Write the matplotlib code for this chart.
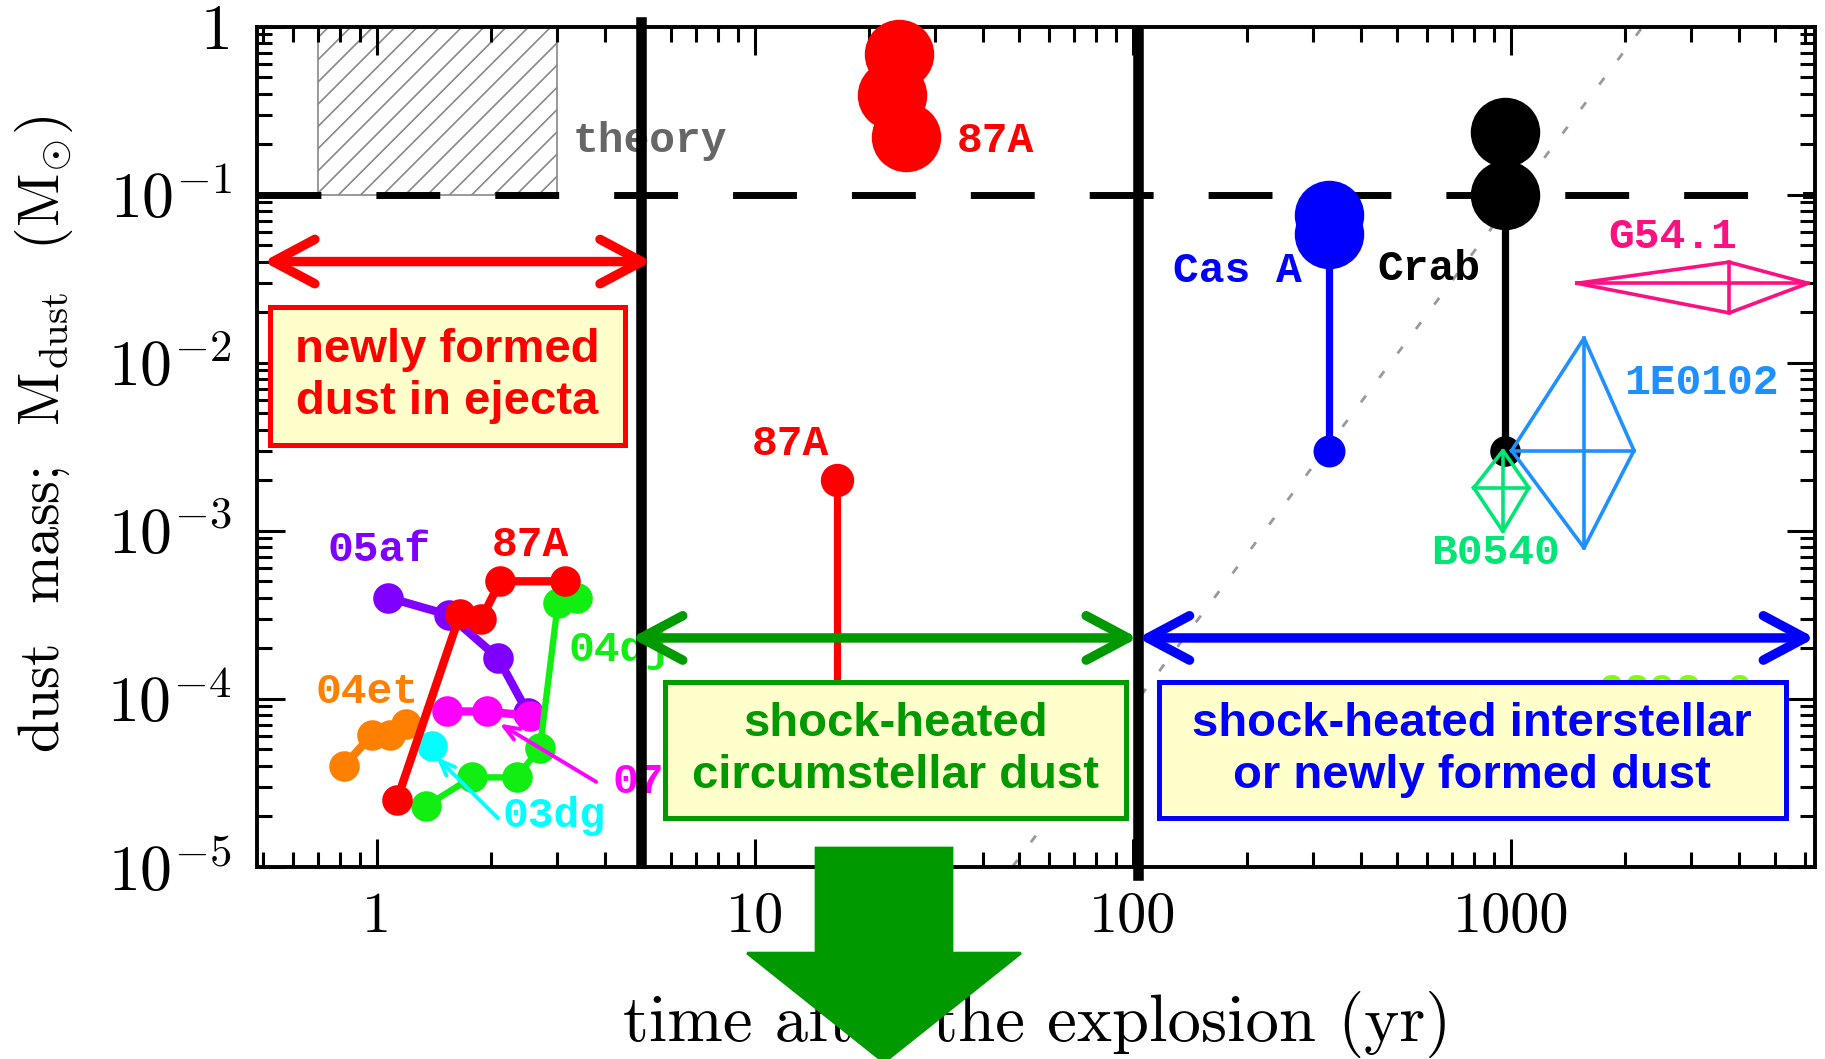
import matplotlib
matplotlib.use("Agg")
import matplotlib.pyplot as plt
from matplotlib.patches import Rectangle, FancyArrowPatch, FancyArrow
from matplotlib.ticker import FixedLocator, FixedFormatter, LogLocator, NullFormatter

plt.rcParams['font.family'] = ['cmr10', 'DejaVu Serif']
plt.rcParams['mathtext.fontset'] = 'cm'
plt.rcParams['axes.formatter.use_mathtext'] = True
plt.rcParams['hatch.linewidth'] = 0.6

# ---------------- data ----------------
# early-time supernovae (yr, Msun)
t_04et = [0.82, 0.97, 1.08, 1.19]
m_04et = [4.0e-5, 6.1e-5, 6.1e-5, 7.1e-5]
t_05af = [1.07, 1.55, 2.09, 2.51]
m_05af = [4.0e-4, 3.15e-4, 1.75e-4, 8.2e-5]
t_07it = [1.53, 1.95, 2.54]
m_07it = [8.4e-5, 8.4e-5, 7.9e-5]
t_04dj = [1.35, 1.78, 2.34, 2.70, 3.01, 3.39]
m_04dj = [2.3e-5, 3.4e-5, 3.4e-5, 5.1e-5, 3.7e-4, 4.0e-4]
t_03dg = [1.40]
m_03dg = [5.2e-5]
t_87A_early = [1.13, 1.66, 1.89, 2.12, 3.14]
m_87A_early = [2.5e-5, 3.2e-4, 3.0e-4, 5.0e-4, 5.0e-4]

# SN 1987A later epochs
t_87A_late = [24.0, 23.1, 25.1]
m_87A_late = [0.69, 0.39, 0.22]
t_87A_mid = [16.5]
m_87A_mid = [2.0e-3]
m_87A_mid_range = [1.0e-4, 2.0e-3]

# supernova remnants: large values + lower limits
t_casA = [329, 329]
m_casA = [0.076, 0.058]
m_casA_low = [3.0e-3]
t_crab = [964, 964]
m_crab = [0.237, 0.0995]
m_crab_low = [3.0e-3]

# diamond-shaped ranges: (t_center, t_lo, t_hi, m_center, m_lo, m_hi)
g541 = [3775, 1495, 6105, 0.0297, 0.0198, 0.0397]
e0102 = [1560, 1004, 2115, 3.0e-3, 7.9e-4, 1.40e-2]
b0540 = [952, 797, 1114, 1.8e-3, 9.9e-4, 3.0e-3]

# theory range
theory_t = [0.7, 3.0]
theory_m = [0.1, 1.0]

# t^3 reference (dotted)
t_ref = [48, 2230]
m_ref = [1.0e-5, 1.0]

# period boundaries
t_bounds = [5, 103]

xtick_vals = [1, 10, 100, 1000]
xtick_labels = ['1', '10', '100', '1000']
ytick_vals = [1e-5, 1e-4, 1e-3, 1e-2, 1e-1, 1]
ytick_labels = [r'$10^{-5}$', r'$10^{-4}$', r'$10^{-3}$', r'$10^{-2}$', r'$10^{-1}$', '1']

# ---------------- figure ----------------
fig = plt.figure(figsize=(9.125, 5.295), dpi=200)
ax = fig.add_axes([0.14082, 0.18158, 0.85370, 0.79320])
ax.set_xscale('log')
ax.set_yscale('log')
ax.set_xlim(0.4815, 6370)
ax.set_ylim(1e-5, 1)

ax.xaxis.set_major_locator(FixedLocator(xtick_vals))
ax.xaxis.set_major_formatter(FixedFormatter(xtick_labels))
ax.xaxis.set_minor_locator(LogLocator(base=10, subs=[2, 3, 4, 5, 6, 7, 8, 9], numticks=30))
ax.xaxis.set_minor_formatter(NullFormatter())
ax.yaxis.set_major_locator(FixedLocator(ytick_vals))
ax.yaxis.set_major_formatter(FixedFormatter(ytick_labels))
ax.yaxis.set_minor_locator(LogLocator(base=10, subs=[2, 3, 4, 5, 6, 7, 8, 9], numticks=30))
ax.yaxis.set_minor_formatter(NullFormatter())

ax.tick_params(which='both', direction='in', top=True, right=True, width=1.1)
ax.tick_params(which='major', length=10)
ax.tick_params(which='minor', length=5.4)
ax.tick_params(axis='x', labelsize=21, pad=9)
ax.tick_params(axis='y', labelsize=23, pad=9)
for s in ax.spines.values():
    s.set_linewidth(1.4)

ax.set_xlabel('time after the explosion (yr)', fontsize=24, va='center')
ax.xaxis.set_label_coords(0.5006, -0.188)
ax.set_ylabel(r'dust  mass;  M$_{\rm dust}$  (M$_{\odot}$)', fontsize=21, va='center')
ax.yaxis.set_label_coords(-0.137, 0.515)

# theory hatched region
ax.add_patch(Rectangle((theory_t[0], theory_m[0]), theory_t[1] - theory_t[0],
                       theory_m[1] - theory_m[0], facecolor='none',
                       edgecolor='#888888', hatch='///', linewidth=0.6, zorder=1))

# dashed 0.1 Msun line
lw_d = 2.5
ax.axhline(0.1, color='black', linewidth=lw_d, linestyle=(0, (23 / lw_d, 19.8 / lw_d)),
           dash_capstyle='butt', zorder=2)

# dotted t^3 line
ax.plot(t_ref, m_ref, color='#999999', linewidth=1.0, linestyle=(0, (3.0, 8.0)), zorder=1)

# vertical period boundaries
ax.axvline(t_bounds[0], ymin=0.0044, ymax=1.006, color='black', linewidth=3.8,
           clip_on=False, zorder=8)
ax.axvline(t_bounds[1], ymin=-0.0099, ymax=0.9925, color='black', linewidth=3.8,
           clip_on=False, zorder=8)

# early SNe
def series(t, m, c, lw=3.0, ms=10, z=5):
    ax.plot(t, m, '-o', color=c, linewidth=lw, markersize=ms, zorder=z)

series(t_04et, m_04et, '#FF8000')
series(t_05af, m_05af, '#8000FF')
series(t_07it, m_07it, '#FF00FF')
series(t_04dj, m_04dj, '#11EE11', lw=2.3)
series(t_03dg, m_03dg, '#00FFFF')
series(t_87A_early, m_87A_early, '#FF0000')

# pointer arrows for 07it and 03dg
ax.annotate('', xy=(2.11, 7.1e-5), xytext=(3.80, 3.2e-5),
            arrowprops=dict(arrowstyle='->,head_length=0.55,head_width=0.22',
                            color='#FF00FF', lw=1.4, shrinkA=0, shrinkB=0), zorder=6)
ax.annotate('', xy=(1.435, 4.5e-5), xytext=(2.09, 1.94e-5),
            arrowprops=dict(arrowstyle='->,head_length=0.55,head_width=0.22',
                            color='#00FFFF', lw=1.4, shrinkA=0, shrinkB=0), zorder=6)

# SN 1987A later
ax.plot(t_87A_late, m_87A_late, 'o', color='#FF0000', markersize=24, zorder=5, clip_on=False)
ax.plot([t_87A_mid[0]] * 2, m_87A_mid_range, color='#FF0000', linewidth=2.6, zorder=4)
ax.plot(t_87A_mid, m_87A_mid, 'o', color='#FF0000', markersize=11, zorder=5)

# Cas A and Crab
ax.plot([t_casA[0]] * 2, [m_casA_low[0], m_casA[-1]], color='#0000FF', linewidth=2.6, zorder=4)
ax.plot([t_casA[0]], m_casA_low, 'o', color='#0000FF', markersize=10.5, zorder=5)
ax.plot(t_casA, m_casA, 'o', color='#0000FF', markersize=24, zorder=5)
ax.plot([t_crab[0]] * 2, [m_crab_low[0], m_crab[-1]], color='black', linewidth=2.6, zorder=4)
ax.plot([t_crab[0]], m_crab_low, 'o', color='black', markersize=10, zorder=5)
ax.plot(t_crab, m_crab, 'o', color='black', markersize=24, zorder=5)

# diamonds
def diamond(d, c):
    tc, tlo, thi, mc, mlo, mhi = d
    ax.plot([tlo, tc, thi, tc, tlo], [mc, mhi, mc, mlo, mc], color=c, linewidth=1.3, zorder=5)
    ax.plot([tlo, thi], [mc, mc], color=c, linewidth=1.3, zorder=5)
    ax.plot([tc, tc], [mlo, mhi], color=c, linewidth=1.3, zorder=5)

diamond(g541, '#FF1080')
diamond(e0102, '#1E90FF')
diamond(b0540, '#00E676')

# labels
lab = dict(family=['Liberation Mono', 'DejaVu Sans Mono'], weight='bold', fontsize=15.5, zorder=3)
ax.text(3.30, 0.21, 'theory', color='#666666', ha='left', va='center', **lab)
ax.text(34.2, 0.21, '87A', color='#FF0000', ha='left', va='center', **lab)
ax.text(12.4, 3.3e-3, '87A', color='#FF0000', ha='center', va='center', **lab)
ax.text(280, 0.035, 'Cas A', color='#0000FF', ha='right', va='center', **lab)
ax.text(442, 0.036, 'Crab', color='black', ha='left', va='center', **lab)
ax.text(2683, 0.056, 'G54.1', color='#FF1080', ha='center', va='center', **lab)
ax.text(1991, 7.6e-3, '1E0102', color='#1E90FF', ha='left', va='center', **lab)
ax.text(912, 7.4e-4, 'B0540', color='#00E676', ha='center', va='center', **lab)
ax.text(2730, 1.1e-4, 'G292.0', color='#80FF00', ha='center', va='center', **lab)
ax.text(1.01, 7.7e-4, '05af', color='#8000FF', ha='center', va='center', **lab)
ax.text(2.54, 8.2e-4, '87A', color='#FF0000', ha='center', va='center', **lab)
ax.text(3.22, 1.95e-4, '04dj', color='#11EE11', ha='left', va='center', **lab)
ax.text(0.94, 1.1e-4, '04et', color='#FF8000', ha='center', va='center', **lab)
ax.text(4.21, 3.2e-5, '07it', color='#FF00FF', ha='left', va='center', **lab)
ax.text(2.15, 2.0e-5, '03dg', color='#00FFFF', ha='left', va='center', **lab)

# double-headed period arrows
def period_arrow(x0, x1, y, c):
    a = FancyArrowPatch((x0, y), (x1, y), arrowstyle='<->,head_length=15,head_width=8',
                        mutation_scale=1, color=c, linewidth=3.4, shrinkA=0, shrinkB=0,
                        capstyle='round', joinstyle='round', zorder=9, clip_on=False)
    ax.add_patch(a)

period_arrow(0.50, 5.33, 0.04, '#FF0000')
period_arrow(4.70, 103, 2.3e-4, '#009900')
period_arrow(103, 6370, 2.3e-4, '#0000FF')

# annotation boxes
boxfont = dict(family=['Liberation Sans', 'DejaVu Sans'], weight='bold', fontsize=17)
boxes = [
    ((0.0083, 0.502), 0.2281, 0.1643, '#FF0000', 'newly formed\ndust in ejecta', (0.1223, 0.584)),
    ((0.262, 0.058), 0.296, 0.1619, '#009900', 'shock-heated\ncircumstellar dust', (0.410, 0.139)),
    ((0.5787, 0.058), 0.4027, 0.1619, '#0000FF', 'shock-heated interstellar\nor newly formed dust', (0.780, 0.139)),
]
for (x0, y0), w, h, c, txt, (tx, ty) in boxes:
    ax.add_patch(Rectangle((x0, y0), w, h, transform=ax.transAxes, facecolor='#FFFFCC',
                           edgecolor=c, linewidth=1.8, zorder=10))
    ax.text(tx, ty, txt, transform=ax.transAxes, color=c, ha='center', va='center',
            linespacing=1.25, zorder=11, **boxfont)

# big green arrow pointing down
fig.patches.append(FancyArrow(0.4844, 0.1992, 0, -0.2022, width=0.0745, head_width=0.150,
                              head_length=0.103, length_includes_head=True,
                              transform=fig.transFigure, color='#009900', zorder=20))

fig.savefig('out.png', dpi=200, facecolor='white')
